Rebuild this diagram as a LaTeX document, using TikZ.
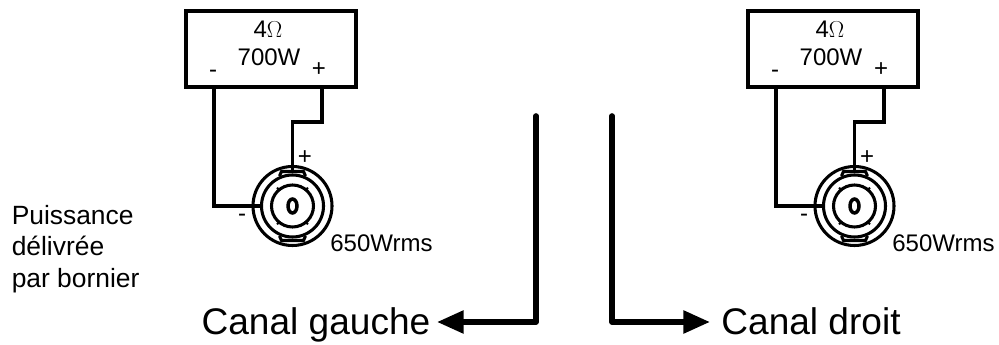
\documentclass[tikz,border=0pt]{standalone}
\usepackage{fontspec}
\setmainfont{Liberation Sans}
\usetikzlibrary{arrows.meta}
\tikzset{
  wire/.style={line width=2.5pt},
  bigwire/.style={line width=4.2pt, line cap=round, line join=round},
  flow/.style={bigwire, -{Triangle[length=20pt, width=16.5pt]}},
  ampbox/.style={draw, line width=2.5pt, minimum width=127.5pt, minimum height=57pt, inner sep=0pt},
  small/.style={font=\fontsize{18}{20}\selectfont, inner sep=0pt, anchor=base},
  notetext/.style={font=\fontsize{19.8}{22}\selectfont, inner sep=0pt, anchor=base west},
  big/.style={font=\fontsize{27.8}{30}\selectfont, inner sep=0pt, anchor=base},
  ring/.style={line width=2.3pt}
}
\newcommand{\speakon}[2]{%
  \begin{scope}[shift={(#1,#2)}]
    % plug outline
    \draw[ring] (0,0) circle (39.5);
    \draw[ring] (0,0) circle (31);
    \draw[ring] (-13,-30) -- (-11,-34.5) -- (11,-34.5) -- (13,-30);
    \draw[ring] (-13,30) -- (-11,34.5) -- (11,34.5) -- (13,30);
    % centre
    \draw[ring] (0,0) circle (21);
    \foreach \a in {50,130,230,310}
      \draw[line width=1.5pt] (\a:20) -- (\a:24);
    \draw[line width=2.6pt] (0,0) ellipse (4.5 and 7);
  \end{scope}}
\begin{document}
\begin{tikzpicture}[x=0.75pt, y=-0.75pt]
  \useasboundingbox (0,0) rectangle (999,345);

  % left channel
  \node[ampbox] (ampL) at (271,49) {};
  \node[small] (ohmL) at (268,38) {4$\Omega$};
  \node[small] (wattL) at (269,66) {700W};
  \node[small] (minusL) at (213,78) {-};
  \node[small] (plusL) at (319,77) {+};
  \speakon{292.5}{206}
  \coordinate (outminusL) at (214,87);
  \coordinate (outplusL) at (322,87);
  \coordinate (topL) at (292.5,172);
  \coordinate (sideL) at (261.5,206);
  \draw[wire] (outminusL) |- (sideL);
  \draw[wire] (outplusL) |- (292.5,122) -- (topL);
  \node[small] (tplusL) at (305,165) {+};
  \node[small] (tminusL) at (242,222) {-};
  \node[small] (powerL) at (381.5,252) {650Wrms};

  % right channel
  \node[ampbox] (ampR) at (833,49) {};
  \node[small] (ohmR) at (830,38) {4$\Omega$};
  \node[small] (wattR) at (831,66) {700W};
  \node[small] (minusR) at (775,78) {-};
  \node[small] (plusR) at (881,77) {+};
  \speakon{854.5}{206}
  \coordinate (outminusR) at (776,87);
  \coordinate (outplusR) at (884,87);
  \coordinate (topR) at (854.5,172);
  \coordinate (sideR) at (823.5,206);
  \draw[wire] (outminusR) |- (sideR);
  \draw[wire] (outplusR) |- (854.5,122) -- (topR);
  \node[small] (tplusR) at (867,165) {+};
  \node[small] (tminusR) at (804,222) {-};
  \node[small] (powerR) at (943.5,252) {650Wrms};

  % channel labels
  \node[big] (gauche) at (316,334) {Canal gauche};
  \node[big] (droit) at (811,334) {Canal droit};
  \coordinate (startL) at (536,116);
  \coordinate (startR) at (612,116);
  \coordinate (tipL) at (437,322);
  \coordinate (tipR) at (710,322);
  \draw[flow] (startL) |- (tipL);
  \draw[flow] (startR) |- (tipR);

  \node[notetext] (note1) at (11.5,225) {Puissance};
  \node[notetext] (note2) at (11.5,256) {délivrée};
  \node[notetext] (note3) at (11.5,287) {par bornier};
\end{tikzpicture}
\end{document}
